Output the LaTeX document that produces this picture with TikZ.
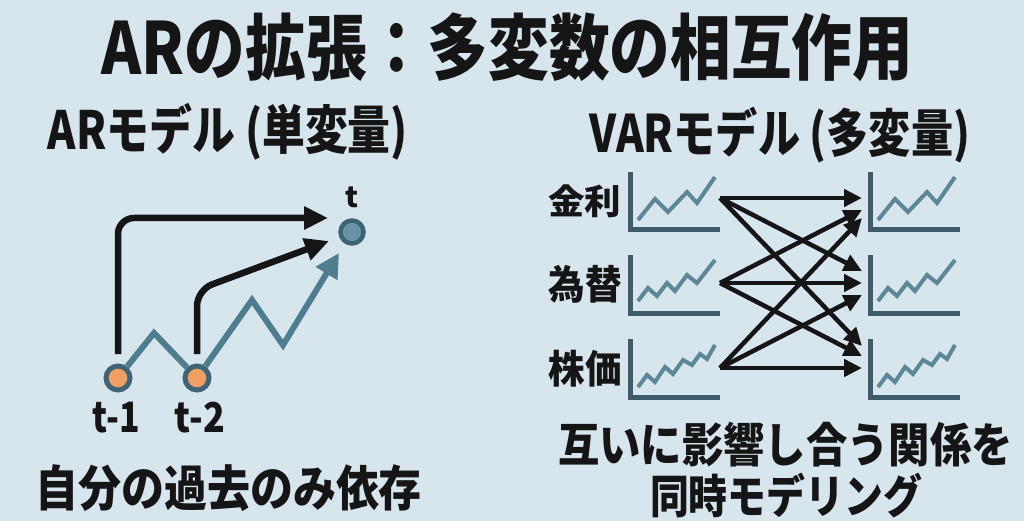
\documentclass[tikz,border=0pt]{standalone}
\usepackage{fontspec}
\usepackage{graphicx}
\newfontfamily\jp{Noto Sans CJK JP}
\usetikzlibrary{arrows.meta,calc}
\definecolor{bg}{HTML}{D7E5EC}
\definecolor{steel}{HTML}{4F7D90}
\definecolor{steeldark}{HTML}{3E6577}
\definecolor{tfill}{HTML}{6693A8}
\definecolor{orng}{HTML}{F2A062}
\definecolor{axiscol}{HTML}{3E5C69}
\definecolor{zigcol}{HTML}{5B8797}
\definecolor{ink}{HTML}{151515}
\newcommand\fittext[3]{\resizebox*{#1pt}{#2pt}{\jp\bfseries #3}}
\tikzset{
  txt/.style={inner sep=0pt, outer sep=0pt, text=ink},
  pastnode/.style={circle, minimum size=24pt, inner sep=0pt, fill=orng, draw=steeldark, line width=5pt},
  nownode/.style={circle, minimum size=23pt, inner sep=0pt, fill=tfill, draw=steeldark, line width=4.5pt},
  blkarrow/.style={draw=ink, line width=6.5pt, rounded corners=16pt, -{Triangle[length=24pt,width=22pt]}},
  bluepath/.style={draw=steel, line width=6pt, line join=miter},
  bluearrow/.style={bluepath, -{Triangle[length=24pt,width=24pt]}},
  axisline/.style={draw=axiscol, line width=5pt},
  zig/.style={draw=zigcol, line width=4pt, line join=miter},
  varrow/.style={draw=ink, line width=4.5pt, -{Triangle[length=18pt,width=17pt]}},
  chartone/.pic={\draw[axisline] (0,-58) |- (90,0);
    \draw[zig] (8,-10) -- (25,-31) -- (38,-18) -- (57,-38) -- (67,-27) -- (85,-53);},
  charttwo/.pic={\draw[axisline] (0,-58) |- (90,0);
    \draw[zig] (8,-12) -- (18,-25) -- (27,-17) -- (37,-30) -- (45,-22) -- (57,-38) -- (67,-30) -- (85,-53);},
  chartthree/.pic={\draw[axisline] (0,-58) |- (90,0);
    \draw[zig] (8,-10) -- (17,-22) -- (25,-15) -- (35,-30) -- (43,-23) -- (53,-37) -- (62,-32) -- (70,-43) -- (77,-38) -- (85,-52);}
}
\begin{document}
\begin{tikzpicture}[x=1pt,y=-1pt]
\fill[bg] (0,0) rectangle (1024,521);
\useasboundingbox (0,0) rectangle (1024,521);

% titles
\node[txt] (title) at (507.5,47.5) {\fittext{811}{69}{ARの拡張：多変数の相互作用}};
\node[txt] (subl) at (228,131.5) {\fittext{360}{57}{ARモデル (単変量)}};
\node[txt] (subr) at (780,135) {\fittext{380}{56}{VARモデル (多変量)}};

% left AR diagram
\node[pastnode] (t1) at (118,378) {};
\node[pastnode] (t2) at (197,378) {};
\node[nownode] (t) at (352,232) {};
\node[txt] (tlab) at (351.5,197.5) {\fittext{13}{21}{t}};
\node[txt] (t1lab) at (116.5,417.5) {\fittext{47}{31}{t-1}};
\node[txt] (t2lab) at (200,417.5) {\fittext{50}{31}{t-2}};

\draw[bluepath] (t1) -- (154,333) -- (t2);
\coordinate (bluetip) at (339,253);
\draw[bluearrow] (t2) -- (252,300) -- (283,345) -- (bluetip);

\draw[blkarrow] ($(t1)+(0,-24)$) |- ($(t)+(-24,-14)$);
\draw[blkarrow] ($(t2)+(0,-24)$) -- (197,290) -- ($(t)+(-23,9)$);

\node[txt] (leftnote) at (228.5,488.5) {\fittext{387}{47}{自分の過去のみ依存}};

% right VAR diagram
\node[txt] (v1) at (584.5,201.5) {\fittext{73}{33}{金利}};
\node[txt] (v2) at (585,284) {\fittext{73}{38}{為替}};
\node[txt] (v3) at (585,368.5) {\fittext{73}{37}{株価}};

\pic at (630,230) {chartone};
\pic at (630,313) {charttwo};
\pic at (630,397) {chartthree};
\pic at (870,230) {chartone};
\pic at (870,313) {charttwo};
\pic at (870,397) {chartthree};

\coordinate (s1) at (720,198);
\coordinate (s2) at (720,283);
\coordinate (s3) at (720,368);
\coordinate (r11) at (862,198);
\coordinate (r12) at (862,210);
\coordinate (r13) at (862,218);
\coordinate (r21) at (862,271);
\coordinate (r22) at (862,283);
\coordinate (r23) at (862,295);
\coordinate (r31) at (862,346);
\coordinate (r32) at (862,356);
\coordinate (r33) at (862,368);

\draw[varrow] (s1) -- (r11);
\draw[varrow] (s1) -- (r21);
\draw[varrow] (s1) -- (r31);
\draw[varrow] (s2) -- (r12);
\draw[varrow] (s2) -- (r22);
\draw[varrow] (s2) -- (r32);
\draw[varrow] (s3) -- (r13);
\draw[varrow] (s3) -- (r23);
\draw[varrow] (s3) -- (r33);

\node[txt] (rightnote1) at (785.5,444.5) {\fittext{455}{45}{互いに影響し合う関係を}};
\node[txt] (rightnote2) at (786,495.5) {\fittext{272}{45}{同時モデリング}};
\end{tikzpicture}
\end{document}
